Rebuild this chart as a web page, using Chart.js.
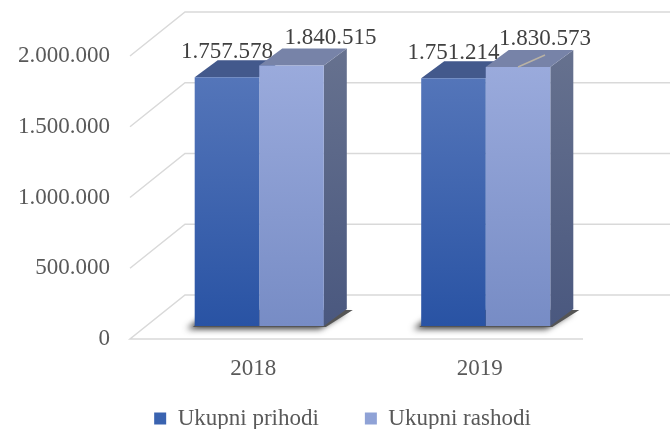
<!DOCTYPE html>
<html>
<head>
<meta charset="utf-8">
<script src="https://cdn.jsdelivr.net/npm/chart.js@4.4.1/dist/chart.umd.min.js"></script>
<style>
  html, body { margin: 0; padding: 0; background: #fff; }
  #wrap { width: 670px; height: 429px; }
</style>
</head>
<body>
<div id="wrap"><canvas id="chart" width="670" height="429"></canvas></div>
<script>
const years = ['2018', '2019'];
const prihodi = [1757578, 1751214];
const rashodi = [1840515, 1830573];
const seriesNames = ['Ukupni prihodi', 'Ukupni rashodi'];
const yTicks = [0, 500000, 1000000, 1500000, 2000000];

// 3D look (pixels)
const WALL = { dx: 55, dy: -44 };
const BAR_SHIFT = { dx: 16, dy: -13 };
const BAR_DEPTH = { dx: 23, dy: -17 };
const FONT = 'Liberation Serif';

const faces = [
    { front: ['#5a7abc', '#2953a4'], top: '#43598c', side: ['#3b5084', '#2b4070'], legend: '#3a63b0' },
    { front: ['#9dadde', '#778cc5'], top: '#7783a8', side: ['#67728f', '#4a587f'], legend: '#8fa2d6' }
];

// label nudges for the second series (Excel moved them aside)
const rashodiLabelShift = [39, 27];
const rashodiLeader = [false, true];
const yearLabelShift = 10;

const fmt = v => String(v).replace(/\B(?=(\d{3})+(?!\d))/g, '.');

function frontFill(i) {
    return (context) => {
        const chart = context.chart;
        const area = chart.chartArea;
        if (!area) return faces[i].legend;
        const g = chart.ctx.createLinearGradient(0, area.top, 0, area.bottom);
        g.addColorStop(0, faces[i].front[0]);
        g.addColorStop(1, faces[i].front[1]);
        return g;
    };
}

function drawFaces(chart, index, withSide) {
    const { ctx, chartArea } = chart;
    const f = faces[index];
    chart.getDatasetMeta(index).data.forEach(bar => {
        const l = bar.x - bar.width / 2;
        const r = bar.x + bar.width / 2;
        const top = bar.y;
        const base = bar.base;

        // side face (only the last bar of a group shows it)
        if (withSide) {
            const sg = ctx.createLinearGradient(0, chartArea.top, 0, chartArea.bottom);
            sg.addColorStop(0, f.side[0]);
            sg.addColorStop(1, f.side[1]);
            ctx.fillStyle = sg;
            ctx.beginPath();
            ctx.moveTo(r, top);
            ctx.lineTo(r + BAR_DEPTH.dx, top + BAR_DEPTH.dy);
            ctx.lineTo(r + BAR_DEPTH.dx, base + BAR_DEPTH.dy);
            ctx.lineTo(r, base);
            ctx.closePath();
            ctx.fill();
        }

        // top face
        ctx.fillStyle = f.top;
        ctx.beginPath();
        ctx.moveTo(l, top);
        ctx.lineTo(r, top);
        ctx.lineTo(r + BAR_DEPTH.dx, top + BAR_DEPTH.dy);
        ctx.lineTo(l + BAR_DEPTH.dx, top + BAR_DEPTH.dy);
        ctx.closePath();
        ctx.fill();
    });
}

const threeD = {
    id: 'threeD',
    beforeDatasetsDraw(chart) {
        const { ctx, chartArea, scales } = chart;

        // back wall gridlines + floor
        ctx.save();
        ctx.strokeStyle = '#d9d9d9';
        ctx.lineWidth = 1.5;
        yTicks.forEach(v => {
            const y = scales.y.getPixelForValue(v);
            ctx.beginPath();
            if (v === 0) {
                ctx.moveTo(chartArea.right, y);
                ctx.lineTo(chartArea.left, y);
            } else {
                ctx.moveTo(chartArea.left, y);
            }
            ctx.lineTo(chartArea.left + WALL.dx, y + WALL.dy);
            ctx.lineTo(chart.width, y + WALL.dy);
            ctx.stroke();
        });
        ctx.restore();

        // bars sit a bit deeper than the front plane
        ctx.save();
        ctx.translate(BAR_SHIFT.dx, BAR_SHIFT.dy);

        // soft shadow under each group
        const m0 = chart.getDatasetMeta(0).data;
        const m1 = chart.getDatasetMeta(1).data;
        m0.forEach((b0, i) => {
            const b1 = m1[i];
            const x0 = b0.x - b0.width / 2 - 2;
            const x1 = b1.x + b1.width / 2 + 2;
            const base = b0.base + 1;
            ctx.save();
            ctx.shadowColor = 'rgba(0,0,0,0.8)';
            ctx.shadowBlur = 6;
            ctx.shadowOffsetX = -6;
            ctx.shadowOffsetY = 2;
            ctx.fillStyle = '#555';
            ctx.beginPath();
            ctx.moveTo(x0, base);
            ctx.lineTo(x1, base);
            ctx.lineTo(x1 + BAR_DEPTH.dx + 4, base + BAR_DEPTH.dy);
            ctx.lineTo(x0 + BAR_DEPTH.dx, base + BAR_DEPTH.dy);
            ctx.closePath();
            ctx.fill();
            ctx.restore();
        });

        // top and side faces go under the front faces
        drawFaces(chart, 0, false);
        drawFaces(chart, 1, true);
    },
    afterDatasetsDraw(chart) {
        const ctx = chart.ctx;
        ctx.restore();

        ctx.save();
        ctx.font = '23px "' + FONT + '"';
        ctx.textAlign = 'center';
        ctx.textBaseline = 'middle';

        // category labels
        ctx.fillStyle = '#595959';
        chart.data.labels.forEach((lab, i) => {
            ctx.fillText(lab, chart.scales.x.getPixelForValue(i) + yearLabelShift, 369);
        });

        // value labels
        ctx.fillStyle = '#404040';
        chart.data.datasets.forEach((ds, di) => {
            chart.getDatasetMeta(di).data.forEach((bar, i) => {
                const cx = bar.x + BAR_SHIFT.dx;
                const frontTop = bar.y + BAR_SHIFT.dy;
                const backTop = frontTop + BAR_DEPTH.dy;
                let lx = cx;
                let ly = backTop - 8;
                if (di === 1) {
                    lx += rashodiLabelShift[i];
                    ly = backTop - 11;
                    if (rashodiLeader[i]) {
                        ctx.save();
                        ctx.strokeStyle = '#b9b2a4';
                        ctx.lineWidth = 1.5;
                        ctx.beginPath();
                        ctx.moveTo(cx, frontTop);
                        ctx.lineTo(lx, ly + 16);
                        ctx.stroke();
                        ctx.restore();
                    }
                }
                ctx.fillText(fmt(ds.data[i]), lx, ly);
            });
        });
        ctx.restore();
    }
};

new Chart(document.getElementById('chart'), {
    type: 'bar',
    data: {
        labels: years,
        datasets: [
            { label: seriesNames[0], data: prihodi, backgroundColor: frontFill(0), borderWidth: 0 },
            { label: seriesNames[1], data: rashodi, backgroundColor: frontFill(1), borderWidth: 0 }
        ]
    },
    options: {
        responsive: false,
        devicePixelRatio: 1,
        animation: false,
        categoryPercentage: 0.57,
        barPercentage: 1.0,
        layout: { padding: { left: 15, right: 0, top: 56, bottom: 0 } },
        plugins: {
            tooltip: { enabled: false },
            legend: {
                position: 'bottom',
                maxHeight: 68,
                labels: {
                    font: { family: FONT, size: 23 },
                    color: '#595959',
                    boxWidth: 12,
                    boxHeight: 12,
                    padding: 46,
                    generateLabels(chart) {
                        return Chart.defaults.plugins.legend.labels.generateLabels(chart).map((item, i) => {
                            item.fillStyle = faces[i].legend;
                            item.lineWidth = 0;
                            return item;
                        });
                    }
                }
            }
        },
        scales: {
            x: {
                grid: { display: false, drawTicks: false },
                border: { display: false },
                ticks: { display: false },
                afterFit(s) { s.height = 22; }
            },
            y: {
                min: 0,
                max: 2000000,
                grid: { display: false, drawTicks: false },
                border: { display: false },
                ticks: {
                    stepSize: 500000,
                    font: { family: FONT, size: 23 },
                    color: '#595959',
                    padding: 20,
                    callback: v => fmt(v)
                },
                afterFit(s) { s.width = 115; }
            },
            yR: {
                position: 'right',
                display: true,
                grid: { display: false, drawTicks: false },
                border: { display: false },
                ticks: { display: false },
                afterFit(s) { s.width = 87; }
            }
        }
    },
    plugins: [threeD]
});
</script>
</body>
</html>
